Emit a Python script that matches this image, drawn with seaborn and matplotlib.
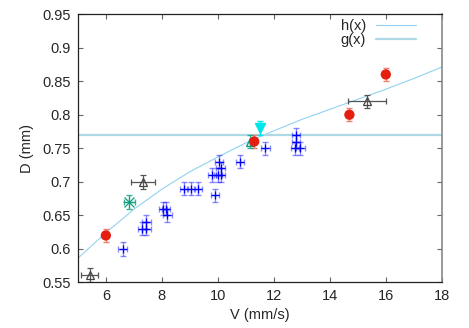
import numpy as np
import matplotlib
matplotlib.use("Agg")
import matplotlib.pyplot as plt
import seaborn as sns

# blue crosses (V, D) with x/y errors
blue_v = [6.6, 7.3, 7.45, 7.45, 8.05, 8.15, 8.2, 8.8, 9.05, 9.3, 9.9,
          9.8, 10.0, 10.1, 10.1, 10.05, 10.8, 11.7, 12.8, 12.8, 12.75, 12.95]
blue_d = [0.60, 0.63, 0.63, 0.64, 0.66, 0.66, 0.65, 0.69, 0.69, 0.69, 0.68,
          0.71, 0.71, 0.71, 0.72, 0.73, 0.73, 0.75, 0.77, 0.76, 0.75, 0.75]
blue_xerr = 0.15
blue_yerr = 0.01

# red filled circles
red_v = [6.0, 11.3, 14.7, 16.0]
red_d = [0.62, 0.76, 0.80, 0.86]
red_yerr = 0.01

# gray open triangles
gray_v = [5.43, 7.32, 15.33]
gray_d = [0.561, 0.70, 0.82]
gray_xerr = [0.3, 0.42, 0.68]
gray_yerr = 0.01

# teal asterisks
teal_v = [6.84, 11.15]
teal_d = [0.67, 0.76]
teal_xerr = [0.2, 0.0]
teal_yerr = 0.01

# cyan filled down triangle
cyan_v = [11.52]
cyan_d = [0.78]
cyan_yerr = 0.01

# h(x) curve
h_v = [5, 6, 7, 8, 9, 10, 11, 12, 13, 14, 15, 16, 17, 18]
h_d = [0.586, 0.624, 0.659, 0.689, 0.715, 0.737, 0.758, 0.776, 0.793,
       0.808, 0.823, 0.838, 0.854, 0.871]

# g(x) constant line
g_v = [5, 18]
g_d = [0.77, 0.77]

sns.set_style("ticks")
plt.rcParams['font.family'] = ['Liberation Sans', 'DejaVu Sans']

fig = plt.figure(figsize=(4.69, 3.28), dpi=100)
ax = fig.add_axes([0.166, 0.139, 0.776, 0.818])

sns.lineplot(x=h_v, y=h_d, ax=ax, color='#92d2f0', linewidth=0.8, label='h(x)')
sns.lineplot(x=g_v, y=g_d, ax=ax, color='#add8e6', linewidth=1.6, label='g(x)')

# blue crosses
ax.errorbar(blue_v, blue_d, xerr=blue_xerr, yerr=blue_yerr, fmt='none',
            ecolor='#0000ff', alpha=0.45, elinewidth=1, capsize=2)
ax.plot(blue_v, blue_d, '+', color='#0000ff', markersize=6, markeredgewidth=0.9)

# red circles
ax.errorbar(red_v, red_d, yerr=red_yerr, fmt='none', ecolor='#f08070',
            elinewidth=1, capsize=2)
sns.scatterplot(x=red_v, y=red_d, ax=ax, color='#e51e10', s=55,
                edgecolor='none', zorder=3)

# gray triangles
ax.errorbar(gray_v, gray_d, xerr=gray_xerr, yerr=gray_yerr, fmt='^',
            mfc='none', mec='#444444', color='#555555', ms=6,
            elinewidth=0.9, capsize=2, mew=0.9)

# teal asterisks (plus + cross overlaid)
ax.errorbar(teal_v, teal_d, xerr=teal_xerr, yerr=teal_yerr, fmt='none',
            ecolor='#109e80', alpha=0.8, elinewidth=0.9, capsize=2)
ax.plot(teal_v[:1], teal_d[:1], '+', color='#109e80', ms=9, mew=0.9, ls='none')
ax.plot(teal_v[:1], teal_d[:1], 'x', color='#109e80', ms=6.5, mew=0.9, ls='none')
ax.plot(teal_v[1:], teal_d[1:], marker='^', color='#109e80', ms=6,
        mfc='none', ls='none')

# cyan triangle
ax.errorbar(cyan_v, cyan_d, yerr=cyan_yerr, fmt='v', color='#00e5e5',
            ms=7, elinewidth=1, capsize=2, zorder=4)

ax.set_xlim(5, 18)
ax.set_ylim(0.55, 0.95)
ax.set_xticks([6, 8, 10, 12, 14, 16, 18])
yt = [0.55, 0.6, 0.65, 0.7, 0.75, 0.8, 0.85, 0.9, 0.95]
ax.set_yticks(yt)
ax.set_yticklabels([f"{v:g}" for v in yt])
ax.tick_params(direction='in', length=3.5, width=0.8, top=True, right=True,
               labelsize=10.5, pad=5, color='#666666')
for side in ['left', 'bottom', 'top']:
    ax.spines[side].set_color('#222222')
    ax.spines[side].set_linewidth(0.9)
ax.spines['right'].set_color('#888888')
ax.spines['right'].set_linewidth(1.2)

ax.set_xlabel("V (mm/s)", fontsize=10.5, labelpad=3)
ax.set_ylabel("D (mm)", fontsize=10.5, labelpad=6)

ax.legend(loc='upper right', bbox_to_anchor=(0.96, 1.025), frameon=False,
          markerfirst=False, fontsize=10.5, handlelength=2.7,
          handletextpad=0.7, labelspacing=0.0, borderpad=0.3)

fig.savefig("out.png", dpi=100)
